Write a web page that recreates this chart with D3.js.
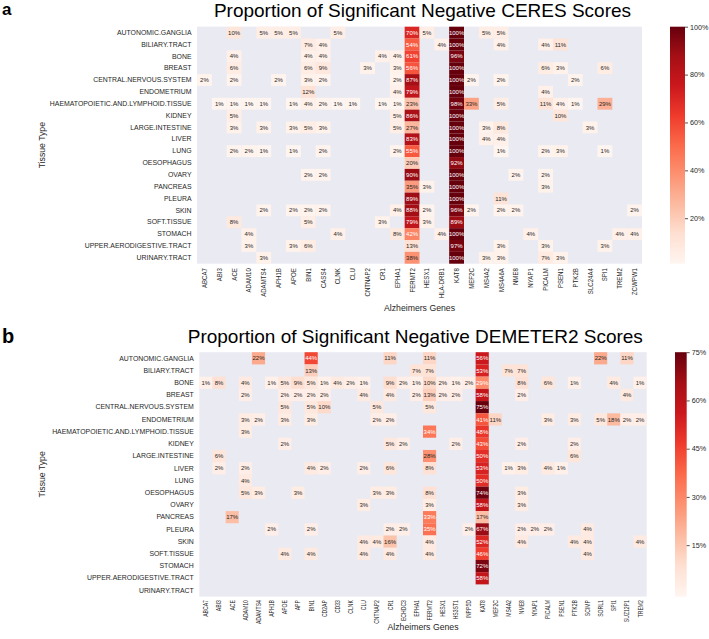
<!DOCTYPE html>
<html><head><meta charset="utf-8">
<script src="https://cdn.jsdelivr.net/npm/d3@7"></script>
<style>
body{margin:0;background:#fff}
svg{display:block;font-family:"Liberation Sans",Arial,sans-serif}
</style>
</head><body>
<svg id="chart" width="709" height="639"></svg>
<script>
const tissues = ["AUTONOMIC.GANGLIA","BILIARY.TRACT","BONE","BREAST","CENTRAL.NERVOUS.SYSTEM","ENDOMETRIUM",
  "HAEMATOPOIETIC.AND.LYMPHOID.TISSUE","KIDNEY","LARGE.INTESTINE","LIVER","LUNG","OESOPHAGUS","OVARY","PANCREAS",
  "PLEURA","SKIN","SOFT.TISSUE","STOMACH","UPPER.AERODIGESTIVE.TRACT","URINARY.TRACT"];

const ceresGenes = ["ABCA7","ABI3","ACE","ADAM10","ADAMTS4","APH1B","APOE","BIN1","CASS4","CLNK","CLU","CNTNAP2","CR1",
  "EPHA1","FERMT2","HESX1","HLA-DRB1","KAT8","MEF2C","MS4A2","MS4A6A","NME8","NYAP1","PICALM","PSEN1","PTK2B",
  "SLC24A4","SPI1","TREM2","ZCWPW1"];

const demeterGenes = ["ABCA7","ABI3","ACE","ADAM10","ADAMTS4","APH1B","APOE","APP","BIN1","CD2AP","CD33","CLNK","CLU",
  "CNTNAP2","CR1","ECHDC3","EPHA1","FERMT2","HESX1","HS3ST1","INPP5D","KAT8","MEF2C","MS4A2","NME8","NYAP1","PICALM",
  "PSEN1","PTK2B","SCIMP","SORL1","SPI1","SUZ12P1","TREM2"];

// percent of significant negative scores, one entry per tissue (missing gene = none)
const ceresValues = [
  {ACE:10, ADAMTS4:5, APH1B:5, APOE:5, CLNK:5, FERMT2:70, HESX1:5, KAT8:100, MS4A2:5, MS4A6A:5},
  {BIN1:7, CASS4:4, FERMT2:54, "HLA-DRB1":4, KAT8:100, MS4A6A:4, PICALM:4, PSEN1:11},
  {ACE:4, BIN1:4, CASS4:4, CR1:4, EPHA1:4, FERMT2:61, KAT8:96},
  {ACE:6, BIN1:6, CASS4:9, CNTNAP2:3, EPHA1:3, FERMT2:56, KAT8:100, PICALM:6, PSEN1:3, SPI1:6},
  {ABCA7:2, ACE:2, APH1B:2, BIN1:3, CASS4:2, EPHA1:2, FERMT2:87, KAT8:100, MEF2C:2, MS4A6A:2, PTK2B:2},
  {BIN1:12, EPHA1:4, FERMT2:79, KAT8:100, PICALM:4},
  {ABI3:1, ACE:1, ADAM10:1, ADAMTS4:1, APOE:1, BIN1:4, CASS4:2, CLNK:1, CLU:1, CR1:1, EPHA1:1, FERMT2:23, KAT8:98, MEF2C:33, MS4A6A:5, PICALM:11, PSEN1:4, PTK2B:1, SPI1:29},
  {ACE:5, EPHA1:5, FERMT2:86, KAT8:100, PSEN1:10},
  {ACE:3, ADAMTS4:3, APOE:3, BIN1:5, CASS4:3, EPHA1:5, FERMT2:27, KAT8:100, MS4A2:3, MS4A6A:8, SLC24A4:3},
  {FERMT2:83, KAT8:100, MS4A2:4, MS4A6A:4},
  {ACE:2, ADAM10:2, ADAMTS4:1, APOE:1, CASS4:2, EPHA1:2, FERMT2:55, KAT8:100, MS4A6A:1, PICALM:2, PSEN1:3, SPI1:1},
  {FERMT2:20, KAT8:92},
  {BIN1:2, CASS4:2, FERMT2:90, KAT8:100, NME8:2, PICALM:2},
  {FERMT2:35, HESX1:3, KAT8:100, PICALM:3},
  {FERMT2:89, KAT8:100, MS4A6A:11},
  {ADAMTS4:2, APOE:2, BIN1:2, CASS4:2, EPHA1:4, FERMT2:88, HESX1:2, KAT8:96, MEF2C:2, MS4A6A:2, NME8:2, ZCWPW1:2},
  {ACE:8, BIN1:5, CR1:3, FERMT2:79, HESX1:3, KAT8:89},
  {ADAM10:4, CLNK:4, EPHA1:8, FERMT2:42, "HLA-DRB1":4, KAT8:100, NYAP1:4, TREM2:4, ZCWPW1:4},
  {ADAM10:3, APOE:3, BIN1:6, FERMT2:13, KAT8:97, MS4A6A:3, PICALM:3, SPI1:3},
  {ADAMTS4:3, FERMT2:38, KAT8:100, MS4A2:3, MS4A6A:3, PICALM:7, PSEN1:3}
];

const demeterValues = [
  {ADAMTS4:22, BIN1:44, CR1:11, FERMT2:11, KAT8:56, SORL1:22, SUZ12P1:11},
  {BIN1:13, EPHA1:7, FERMT2:7, KAT8:53, MS4A2:7, NME8:7},
  {ABCA7:1, ABI3:8, ADAM10:4, APH1B:1, APOE:5, APP:9, BIN1:5, CD2AP:1, CD33:4, CLNK:2, CLU:1, CR1:9, ECHDC3:2, EPHA1:1, FERMT2:10, HESX1:2, HS3ST1:1, INPP5D:2, KAT8:29, NME8:8, PICALM:6, PTK2B:1, SPI1:4, TREM2:1},
  {ADAM10:2, APOE:2, APP:2, BIN1:2, CD2AP:2, CLU:4, CR1:4, EPHA1:2, FERMT2:13, HESX1:2, HS3ST1:2, KAT8:58, NME8:2, SUZ12P1:4},
  {APOE:5, BIN1:5, CD2AP:10, CNTNAP2:5, FERMT2:5, KAT8:75},
  {ADAM10:3, ADAMTS4:2, APOE:3, BIN1:3, CNTNAP2:2, CR1:2, KAT8:41, MEF2C:11, PICALM:3, PTK2B:3, SORL1:5, SPI1:18, SUZ12P1:2, TREM2:2},
  {ADAM10:3, FERMT2:34, KAT8:48},
  {APOE:2, CR1:5, ECHDC3:2, HS3ST1:2, KAT8:43, NME8:2, PTK2B:2},
  {ABI3:6, FERMT2:28, KAT8:50, PTK2B:6},
  {ABI3:2, ADAM10:2, BIN1:4, CD2AP:2, CLU:2, CR1:6, FERMT2:8, KAT8:53, MS4A2:1, NME8:3, PICALM:4, PSEN1:1},
  {ADAM10:4, KAT8:50},
  {ADAM10:5, ADAMTS4:3, APP:3, CNTNAP2:3, CR1:3, FERMT2:8, KAT8:74, NME8:3},
  {CLU:3, FERMT2:3, KAT8:58, NME8:3},
  {ACE:17, FERMT2:33, KAT8:17},
  {APH1B:2, BIN1:2, CR1:2, ECHDC3:2, FERMT2:35, INPP5D:2, KAT8:67, NME8:2, NYAP1:2, PICALM:2, SCIMP:4},
  {CLU:4, CNTNAP2:4, CR1:16, FERMT2:4, KAT8:52, NME8:4, PTK2B:4, SCIMP:4, TREM2:4},
  {APOE:4, BIN1:4, CLU:4, CR1:4, FERMT2:4, KAT8:46, SCIMP:4},
  {KAT8:72},
  {KAT8:58},
  {}
];

const ceresTicks = [20, 40, 60, 80, 100];
const demeterTicks = [15, 30, 45, 60, 75];

const redsStops = ["#fff5f0","#fee0d2","#fcbba1","#fc9272","#fb6a4a","#ef3b2c","#cb181d","#a50f15","#67000d"];
const reds = d3.scaleLinear().domain(d3.range(9).map(i => i / 8)).range(redsStops).clamp(true);
const TXT = "#262626";

function luminance(c) {
  const r = d3.rgb(c);
  const f = v => { v /= 255; return v <= 0.03928 ? v / 12.92 : Math.pow((v + 0.055) / 1.055, 2.4); };
  return 0.2126 * f(r.r) + 0.7152 * f(r.g) + 0.0722 * f(r.b);
}

const svg = d3.select("#chart");
const defs = svg.append("defs");

function panel(o) {
  const g = svg.append("g");
  const x = d3.scaleBand().domain(o.genes).range([o.x0, o.x1]);
  const y = d3.scaleBand().domain(tissues).range([o.y0, o.y1]);
  const norm = d3.scaleLinear().domain([o.vmin, o.vmax]).range([0, 1]);

  g.append("rect").attr("x", o.x0).attr("y", o.y0)
    .attr("width", o.x1 - o.x0).attr("height", o.y1 - o.y0).attr("fill", "#eaeaf2");

  const cells = [];
  tissues.forEach((t, i) => {
    o.genes.forEach(gn => {
      const v = o.values[i][gn];
      if (v) cells.push({t, g: gn, v});
    });
  });

  const cg = g.selectAll("g.cell").data(cells).join("g").attr("class", "cell");
  cg.append("rect")
    .attr("x", d => x(d.g)).attr("y", d => y(d.t))
    .attr("width", x.bandwidth()).attr("height", y.bandwidth())
    .attr("fill", d => reds(norm(d.v)));
  cg.append("text")
    .attr("x", d => x(d.g) + x.bandwidth() / 2)
    .attr("y", d => y(d.t) + y.bandwidth() / 2)
    .attr("dy", "0.35em").attr("text-anchor", "middle")
    .attr("font-size", 6)
    .attr("fill", d => luminance(reds(norm(d.v))) > 0.408 ? TXT : "#ffffff")
    .text(d => d.v + "%");

  // y axis
  const ya = g.append("g").attr("transform", `translate(${o.x0},0)`)
    .call(d3.axisLeft(y).tickSize(0).tickPadding(5.5));
  ya.select(".domain").remove();
  ya.selectAll("text").attr("font-size", 6.9).attr("fill", TXT).attr("font-family", null);

  // x axis
  const xa = g.append("g").attr("transform", `translate(0,${o.y1})`)
    .call(d3.axisBottom(x).tickSize(0));
  xa.select(".domain").remove();
  xa.selectAll("text")
    .attr("transform", `rotate(-90) scale(${o.xLabStretch},1)`)
    .attr("x", -o.xLabGap / o.xLabStretch).attr("y", 0).attr("dy", "0.35em")
    .attr("text-anchor", "end")
    .attr("font-size", 6.9).attr("fill", TXT).attr("font-family", null);

  // titles
  svg.append("text").attr("x", o.titleX).attr("y", o.titleY)
    .attr("text-anchor", "middle").attr("font-size", 19).attr("fill", "#000").text(o.title);
  svg.append("text").attr("x", 2).attr("y", o.letterY)
    .attr("font-size", o.letterSize).attr("font-weight", "bold").attr("fill", "#000").text(o.letter);
  svg.append("text").attr("x", (o.x0 + o.x1) / 2).attr("y", o.xlabY)
    .attr("text-anchor", "middle").attr("font-size", 8.7).attr("fill", TXT).text("Alzheimers Genes");
  svg.append("text")
    .attr("transform", `translate(45,${(o.y0 + o.y1) / 2}) rotate(-90)`)
    .attr("text-anchor", "middle").attr("font-size", 8.7).attr("fill", TXT).text("Tissue Type");

  // colorbar
  const gid = "grad" + o.letter;
  const grad = defs.append("linearGradient").attr("id", gid)
    .attr("x1", 0).attr("y1", 1).attr("x2", 0).attr("y2", 0);
  redsStops.forEach((c, i) => grad.append("stop").attr("offset", i / 8).attr("stop-color", c));
  g.append("rect").attr("x", o.cx0).attr("y", o.y0)
    .attr("width", o.cx1 - o.cx0).attr("height", o.y1 - o.y0).attr("fill", `url(#${gid})`);
  const cy = d3.scaleLinear().domain([o.vmin, o.vmax]).range([o.y1, o.y0]);
  const ca = g.append("g").attr("transform", `translate(${o.cx1},0)`)
    .call(d3.axisRight(cy).tickValues(o.ticks).tickSize(3).tickPadding(2).tickFormat(d => d + "%"));
  ca.select(".domain").remove();
  ca.selectAll("line").attr("stroke", TXT).attr("stroke-width", 0.8);
  ca.selectAll("text").attr("font-size", 7.2).attr("fill", TXT).attr("font-family", null);
}

panel({
  letter: "a", letterY: 15.2, letterSize: 17,
  title: "Proportion of Significant Negative CERES Scores", titleX: 422.5, titleY: 17,
  genes: ceresGenes, values: ceresValues, ticks: ceresTicks, vmin: 1, vmax: 100,
  x0: 197, x1: 642, y0: 26.7, y1: 263.7, cx0: 670, cx1: 685, xlabY: 310.5,
  xLabStretch: 0.88, xLabGap: 4.5
});
panel({
  letter: "b", letterY: 343.3, letterSize: 20,
  title: "Proportion of Significant Negative DEMETER2 Scores", titleX: 415.3, titleY: 343.3,
  genes: demeterGenes, values: demeterValues, ticks: demeterTicks, vmin: -1, vmax: 75,
  x0: 199.3, x1: 646.7, y0: 352.2, y1: 596.6, cx0: 675, cx1: 686.7, xlabY: 630,
  xLabStretch: 0.74, xLabGap: 3.5
});
</script>
</body></html>
